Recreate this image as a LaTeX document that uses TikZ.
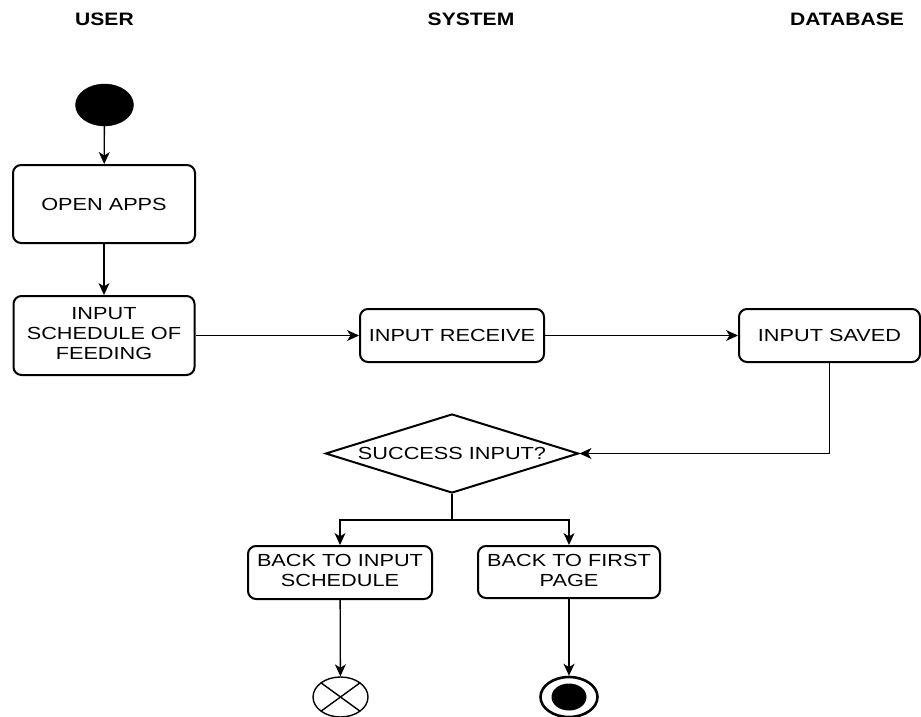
\documentclass[tikz,border=0pt]{standalone}
\usepackage{fontspec}
\usepackage{graphicx}
\setmainfont{Liberation Sans}
\usetikzlibrary{arrows.meta,shapes.geometric,calc}
\newcommand{\wx}[1]{\scalebox{1.24}[1]{#1}}
\newcommand{\wl}[1]{\scalebox{1.24}[1]{\begin{tabular}{@{}c@{}}#1\end{tabular}}}
\newcommand{\hx}[1]{\scalebox{1.17}[1]{#1}}
\tikzset{
  actbox/.style={draw, line width=2pt, rounded corners=8pt, inner sep=0pt,
    font=\fontsize{17.5}{20}\selectfont, align=center},
  hdr/.style={font=\fontsize{18}{20}\selectfont\bfseries, inner sep=0pt},
  arr/.style={draw, line width=1.3pt, -{Stealth[length=12pt,width=11pt,inset=3.5pt]}},
  conn/.style={draw, line width=1.3pt},
}
\begin{document}
\begin{tikzpicture}[x=1pt,y=-1pt]
\useasboundingbox (0,0) rectangle (921,717);
\clip (0,0) rectangle (921,717);
% headers
\node[hdr] (huser) at (104.5,19.5) {\hx{USER}};
\node[hdr] (hsys) at (471,19.5) {\hx{SYSTEM}};
\node[hdr] (hdb) at (847,19.5) {\hx{DATABASE}};
% start
\node[ellipse, fill=black, draw=black, minimum width=58pt, minimum height=42pt, inner sep=0pt] (start) at (104.5,105) {};
% boxes
\node[actbox, minimum width=182pt, minimum height=78pt] (open) at (104,204) {\wx{OPEN APPS}};
\node[actbox, minimum width=181pt, minimum height=79pt] (input) at (104,335.5) {\wl{INPUT\\SCHEDULE OF\\FEEDING}};
\node[actbox, minimum width=184pt, minimum height=53pt] (recv) at (452,335.5) {\wx{INPUT RECEIVE}};
\node[actbox, minimum width=181pt, minimum height=53pt] (saved) at (829.5,335.5) {\wx{INPUT SAVED}};
\node[diamond, draw, line width=2pt, aspect=3.2, minimum width=253pt, minimum height=79pt, inner sep=0pt,
  font=\fontsize{17.5}{20}\selectfont] (dia) at (452,453.5) {\wx{SUCCESS INPUT?}};
\node[actbox, minimum width=184pt, minimum height=53pt] (back1) at (340,572.5) {\wl{BACK TO INPUT\\SCHEDULE}};
\node[actbox, minimum width=182pt, minimum height=52pt] (back2) at (569,572) {\wl{BACK TO FIRST\\PAGE}};
% end nodes
\node[ellipse, draw, line width=1.4pt, minimum width=55pt, minimum height=40pt, inner sep=0pt] (cross) at (340.5,697) {};
\draw[line width=1.4pt] ($(cross.center)+(-19.4,-14.1)$) -- ($(cross.center)+(19.4,14.1)$);
\draw[line width=1.4pt] ($(cross.center)+(-19.4,14.1)$) -- ($(cross.center)+(19.4,-14.1)$);
\node[ellipse, draw, line width=2.6pt, minimum width=57pt, minimum height=40pt, inner sep=0pt] (final) at (569,697) {};
\node[ellipse, fill=black, minimum width=35pt, minimum height=27pt, inner sep=0pt] (finalin) at (569,697) {};
% connectors
\draw[arr] (start) -- (open);
\draw[arr] (open) -- (input);
\draw[arr] (input.east) -- (recv.west);
\draw[arr] (recv.east) -- (saved.west);
\draw[arr] (saved.south) |- (dia.east);
\coordinate (split) at (452,520);
\draw[conn] (dia.south) -- (split);
\draw[arr] (split) -| (back1.north);
\draw[arr] (split) -| (back2.north);
\draw[arr] (back1) -- (cross);
\draw[arr] (back2) -- (final);
\end{tikzpicture}
\end{document}
